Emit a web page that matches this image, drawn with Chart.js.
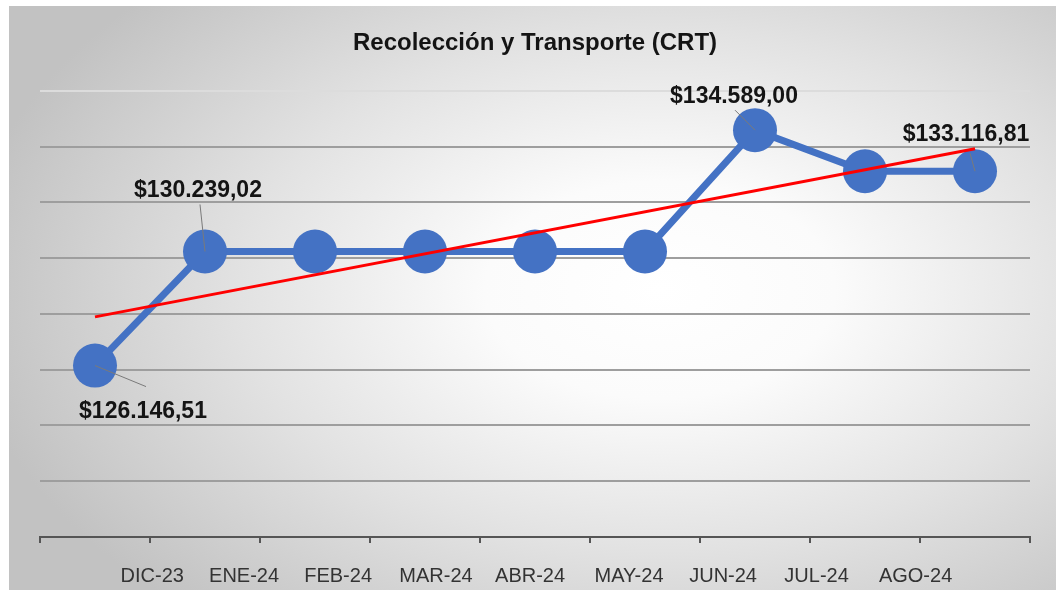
<!DOCTYPE html>
<html>
<head>
<meta charset="utf-8">
<title>Recolección y Transporte (CRT)</title>
<script src="https://cdn.jsdelivr.net/npm/chart.js@4/dist/chart.umd.min.js"></script>
<style>
    html, body { margin: 0; padding: 0; background: #ffffff; }
    #wrap { width: 1056px; height: 590px; }
</style>
</head>
<body>
<div id="wrap"><canvas id="crtChart" width="1056" height="590"></canvas></div>
<script>
// Chart data
const months = ['DIC-23', 'ENE-24', 'FEB-24', 'MAR-24', 'ABR-24', 'MAY-24', 'JUN-24', 'JUL-24', 'AGO-24'];
const crtValues = [126146.51, 130239.02, 130239.02, 130239.02, 130239.02, 130239.02, 134589.00, 133116.81, 133116.81];
const trendValues = [127893, null, null, null, null, null, null, null, 133922];
const labeledPoints = [0, 1, 6, 8];
const yTicks = { min: 120000, max: 136000, step: 2000 };

// Where the month labels sit on the bottom axis (they drift from the tick marks in the original)
const monthLabelPos = [1.02, 1.855, 2.71, 3.6, 4.455, 5.355, 6.21, 7.06, 7.96];

// Label placement: [label dx, label dy, leader dx, leader dy] relative to the point
const labelOffsets = {
    0: [48, 46, 51, 21],
    1: [-7, -61, -5, -47],
    6: [-21, -33, -20, -20],
    8: [-9, -37, -5, -18]
};

// Format like $130.239,02
function formatMoney(v) {
    const parts = v.toFixed(2).split('.');
    const intPart = parts[0].replace(/\B(?=(\d{3})+(?!\d))/g, '.');
    return '$' + intPart + ',' + parts[1];
}

// Gray radial background with the white strip on top/left
const backgroundPlugin = {
    id: 'sheetBackground',
    beforeDraw(chart) {
        const ctx = chart.ctx;
        ctx.save();
        ctx.fillStyle = '#ffffff';
        ctx.fillRect(0, 0, chart.width, chart.height);
        ctx.translate(660, 290);
        ctx.scale(1, 0.62);
        const grad = ctx.createRadialGradient(0, 0, 0, 0, 0, 700);
        grad.addColorStop(0, '#ffffff');
        grad.addColorStop(0.25, '#fbfbfb');
        grad.addColorStop(0.6, '#e2e2e2');
        grad.addColorStop(1, '#c2c2c2');
        ctx.fillStyle = grad;
        ctx.fillRect(-660 + 9, (6 - 290) / 0.62, 1047, 584 / 0.62);
        ctx.restore();
    }
};

// Value labels with thin leader lines
const pointLabelPlugin = {
    id: 'pointLabels',
    afterDraw(chart) {
        const ctx = chart.ctx;
        const meta = chart.getDatasetMeta(0);
        ctx.save();
        labeledPoints.forEach(idx => {
            const pt = meta.data[idx];
            const off = labelOffsets[idx];
            ctx.strokeStyle = '#7a7a7a';
            ctx.lineWidth = 1;
            ctx.beginPath();
            ctx.moveTo(pt.x, pt.y);
            ctx.lineTo(pt.x + off[2], pt.y + off[3]);
            ctx.stroke();

            ctx.fillStyle = '#141414';
            ctx.font = 'bold 23px "Liberation Sans", Arial, sans-serif';
            ctx.textAlign = 'center';
            ctx.textBaseline = 'middle';
            ctx.fillText(formatMoney(crtValues[idx]), pt.x + off[0], pt.y + off[1]);
        });
        ctx.restore();
    }
};

const ctx = document.getElementById('crtChart').getContext('2d');
const crtChart = new Chart(ctx, {
    type: 'line',
    data: {
        datasets: [{
            label: 'CRT',
            data: crtValues.map((v, i) => ({ x: i + 0.5, y: v })),
            borderColor: '#4472c4',
            backgroundColor: '#4472c4',
            borderWidth: 7,
            pointRadius: 22,
            pointBorderWidth: 0,
            pointHoverRadius: 22,
            tension: 0,
            order: 2
        }, {
            label: 'Tendencia',
            data: trendValues.map((v, i) => ({ x: i + 0.5, y: v })),
            borderColor: '#ff0000',
            borderWidth: 3,
            pointRadius: 0,
            spanGaps: true,
            tension: 0,
            order: 1
        }]
    },
    options: {
        responsive: false,
        animation: false,
        devicePixelRatio: 1,
        layout: {
            padding: { left: 40, right: 26, top: 0, bottom: 0 }
        },
        plugins: {
            legend: { display: false },
            tooltip: { enabled: false },
            title: {
                display: true,
                text: 'Recolección y Transporte (CRT)',
                color: '#141414',
                font: { family: '"Liberation Sans", Arial, sans-serif', size: 24, weight: 'bold' },
                padding: { top: 29, bottom: 33 }
            }
        },
        scales: {
            x: {
                type: 'linear',
                position: 'bottom',
                weight: 1,
                min: 0,
                max: months.length,
                ticks: { display: false, stepSize: 1 },
                border: { display: true, color: '#555555', width: 2 },
                grid: {
                    display: true,
                    drawOnChartArea: false,
                    drawTicks: true,
                    tickLength: 6,
                    color: '#555555',
                    lineWidth: 2
                },
                afterFit: axis => { axis.height = 8; }
            },
            xLabels: {
                type: 'linear',
                position: 'bottom',
                weight: 2,
                min: 0,
                max: months.length,
                grid: { display: false },
                border: { display: false },
                afterBuildTicks: axis => {
                    axis.ticks = monthLabelPos.map(v => ({ value: v }));
                },
                ticks: {
                    autoSkip: false,
                    maxRotation: 0,
                    padding: 11,
                    color: '#333333',
                    font: { family: '"Liberation Sans", Arial, sans-serif', size: 20 },
                    callback: (value, index) => months[index]
                },
                afterFit: axis => { axis.height = 45; }
            },
            y: {
                min: yTicks.min,
                max: yTicks.max,
                ticks: { display: false, stepSize: yTicks.step },
                border: { display: false },
                grid: {
                    drawTicks: false,
                    lineWidth: 2,
                    color: c => (c.tick && c.tick.value === yTicks.max) ? '#dcdcdc' : '#9e9e9e'
                },
                afterFit: axis => { axis.width = 0; }
            }
        }
    },
    plugins: [backgroundPlugin, pointLabelPlugin]
});
</script>
</body>
</html>
